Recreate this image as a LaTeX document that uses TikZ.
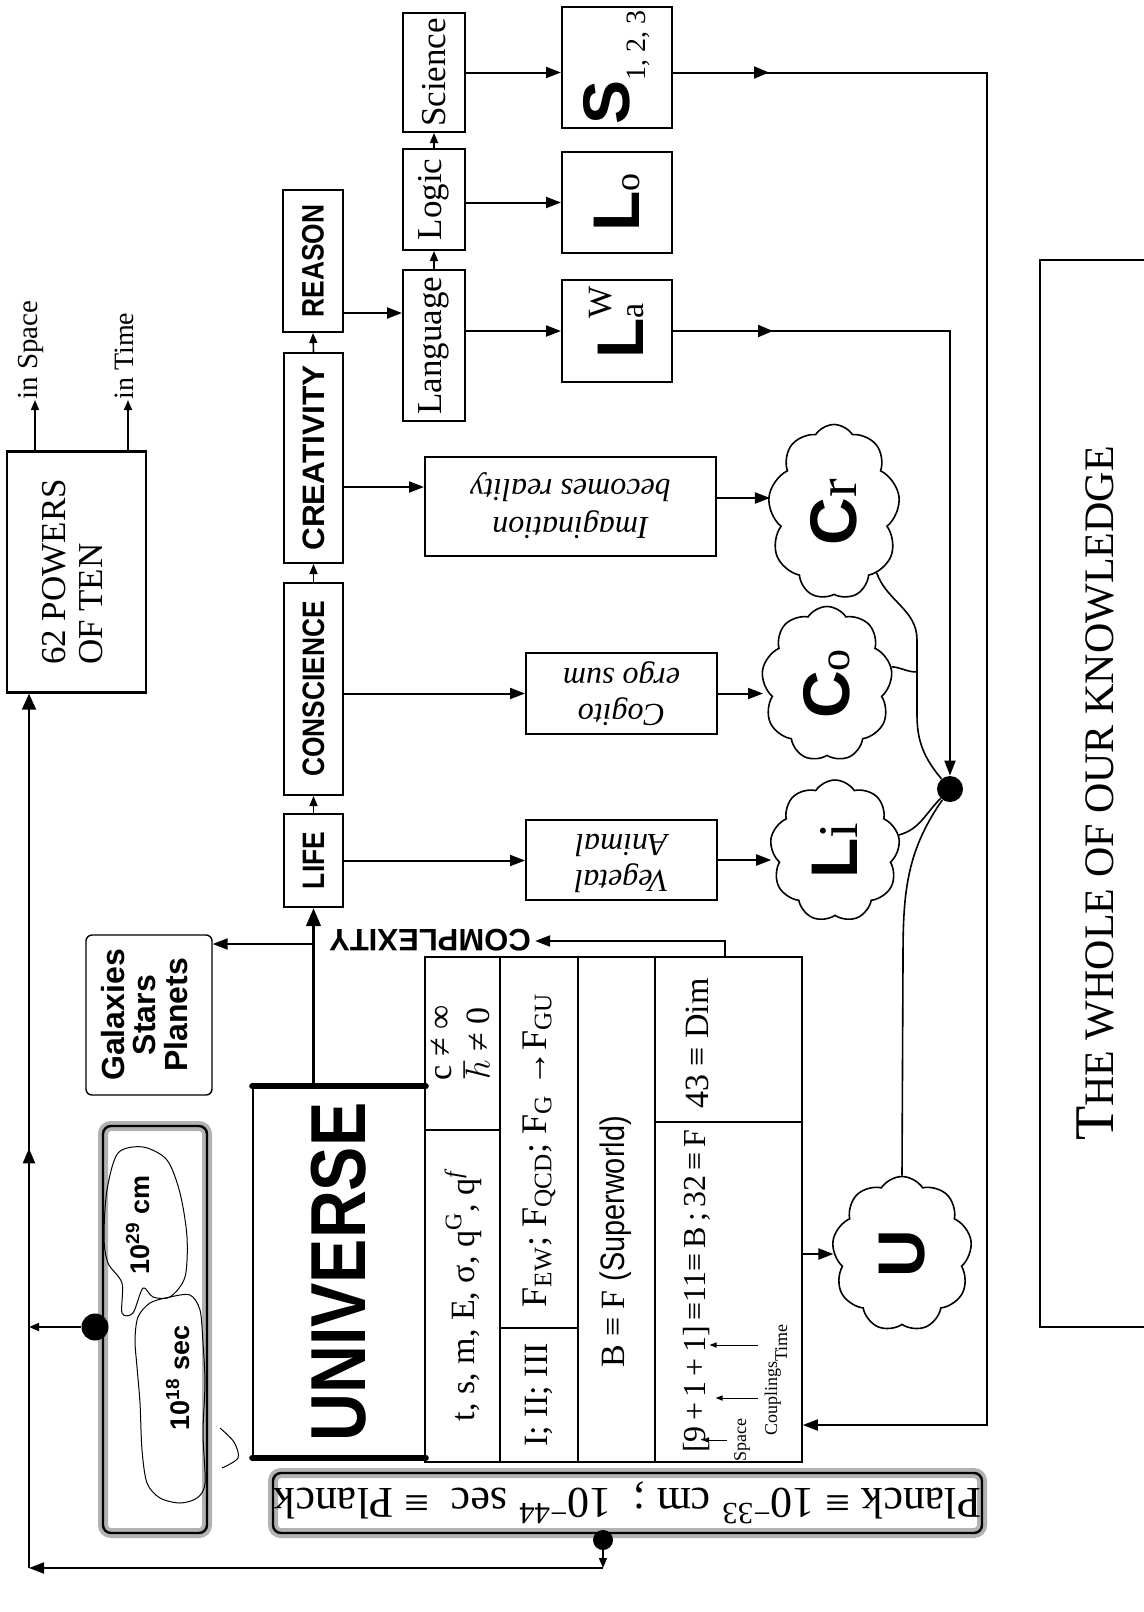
\documentclass[tikz,border=0pt]{standalone}
\usepackage{fontspec}
\usepackage{graphicx}
\setmainfont{Liberation Serif}
\setsansfont{Liberation Sans}
\newfontfamily\narrowsans[FakeStretch=0.85]{Liberation Sans}
\usetikzlibrary{arrows.meta}
\usetikzlibrary{shapes.symbols}
\usetikzlibrary{decorations.markings}
\newcommand\vtext[1]{\rotatebox{90}{#1}}
\newcommand\flipped[1]{\rotatebox{180}{#1}}
\newcommand\fs[2]{\fontsize{#1}{#2}\selectfont}
\newcommand\rowfont{\fs{15.5}{16}\narrowsans\bfseries}
\newcommand\bigsans{\fs{33}{33}\sffamily\bfseries}
\newcommand\tabfont{\fs{17}{19}}
\tikzset{
 box/.style={draw, line width=1pt, inner sep=0pt},
 sz/.style 2 args={minimum width=#1*.5pt, minimum height=#2*.5pt},
 arr/.style={line width=1pt, -{Triangle[length=7.5pt,width=5.5pt]}},
 sarr/.style={line width=.8pt, -{Triangle[length=5pt,width=4pt]}},
 tarr/.style={line width=.5pt, -{Triangle[length=3.5pt,width=2.6pt]}},
 midarrow/.style={postaction={decorate}, decoration={markings,
   mark=at position #1 with {\arrow{Triangle[length=7.5pt,width=6pt]}}}},
 blob/.style={draw, cloud, cloud puffs=9, cloud puff arc=115, cloud ignores aspect,
   inner sep=0pt, line width=.8pt},
 bigdot/.style={circle, fill, inner sep=0pt, minimum size=#1*.5pt},
 shadowbox/.style={draw, line width=1.2pt, rounded corners=4pt, inner sep=0pt,
   preaction={draw=black!30, line width=5pt}},
}
\begin{document}
\begin{tikzpicture}[x=.5pt, y=-.5pt]
\useasboundingbox (0,0) rectangle (1144,1612);

% far left: powers of ten and the return line
\node[box, line width=1.2pt, sz={139}{241}] (powers) at (76.5,572)
  {\vtext{\fs{17.5}{18.5}\begin{tabular}{@{}l@{}}62 POWERS\\OF TEN\end{tabular}}};
\coordinate (sp) at (35,400);
\coordinate (tm) at (128,400);
\draw[sarr] (sp |- powers.north) -- (sp);
\draw[sarr] (tm |- powers.north) -- (tm);
\node[anchor=south, inner sep=0pt] (inspace) at ([xshift=-2pt]sp) {\vtext{\fs{14.5}{16}in Space}};
\node[anchor=south, inner sep=0pt] (intime) at ([xshift=-2pt]tm) {\vtext{\fs{14}{16}in Time}};

\coordinate (bl) at (29,1568);
\coordinate (pl) at (603,1568);

% span of the universe
\node[shadowbox, sz={104}{407}] (span) at (155,1329.5) {};
\draw[line width=.5pt] plot[smooth cycle] coordinates {(118,1153) (143,1147) (167,1160)
  (180,1193) (187,1237) (185,1277) (170,1297) (153,1297) (143,1288) (133,1313) (122,1313)
  (122,1283) (108,1263) (104,1237) (107,1190)};
\draw[line width=.5pt] plot[smooth cycle] coordinates {(138,1317) (150,1303) (170,1297)
  (190,1295) (200,1310) (203,1343) (205,1383) (203,1433) (205,1483) (197,1498) (180,1503)
  (160,1498) (147,1483) (142,1450) (140,1403) (137,1367) (135,1340)};
\draw[line width=.5pt] plot[smooth] coordinates {(220,1428) (234,1442) (238,1458) (222,1468)};
\node (cm) at (138,1225) {\vtext{\fs{13.5}{14}\sffamily\bfseries 10\textsuperscript{29} cm}};
\node (sec) at (178,1378) {\vtext{\fs{13.5}{14}\sffamily\bfseries 10\textsuperscript{18} sec}};
\node[bigdot=27] (sdot) at (95,1327) {};
\draw[sarr] (sdot) -- (sdot -| bl);

\node[draw, line width=.7pt, rounded corners=3pt, inner sep=0pt, sz={126}{160}] (gal) at (149,1015)
  {\vtext{\fs{16}{15}\sffamily\bfseries\begin{tabular}{@{}c@{}}Galaxies\\Stars\\Planets\end{tabular}}};

% universe and its table
\node[draw, line width=.8pt, inner sep=0pt, sz={172}{370}] (uni) at (339,1272)
  {\vtext{\fs{39}{39}\narrowsans\bfseries UNIVERSE}};
\draw[line width=3pt, line cap=round] (uni.north west) -- (uni.north east);
\draw[line width=3pt, line cap=round] (uni.south west) -- (uni.south east);

\node[draw, line width=.8pt, inner sep=0pt, sz={377}{505}] (tab) at (613.5,1209.5) {};
\foreach \cx in {500,578,655}
  \draw[line width=.8pt] (\cx,957) -- (\cx,1462);
\draw[line width=.8pt] (425,1130) -- (500,1130);
\draw[line width=.8pt] (500,1328) -- (578,1328);
\draw[line width=.8pt] (655,1122) -- (802,1122);
\node (consts) at (463,1043) {\vtext{\tabfont\begin{tabular}{@{}c@{}}c ≠ ∞\\$\hbar$ ≠ 0\end{tabular}}};
\node (quant) at (463,1296) {\vtext{\tabfont t, s, m, E, σ, q\textsuperscript{G}, q\textsuperscript{\itshape f}}};
\node (forces) at (539,1150) {\vtext{\fs{18}{19}F\textsubscript{EW}; F\textsubscript{QCD}; F\textsubscript{G} →F\textsubscript{GU}}};
\node (fam) at (539,1395) {\vtext{\tabfont I; II; III}};
\node (superw) at (616,1242) {\vtext{\tabfont B ≡ F {\narrowsans(Superworld)}}};
\node[anchor=south] (dims) at (697,1460) {\vtext{\fs{16}{18}[9\,+\,1\,+\,1]\,≡11≡\,B\,;\,32\,≡\,F}};
\node[anchor=south] (dim) at (697,1116) {\vtext{\tabfont 43 ≡ Dim}};
\node (space) at (742,1440) {\vtext{\fs{9}{9}Space}};
\node (coupl) at (776,1380) {\vtext{\fs{9}{9}Couplings\raisebox{-5pt}{Time}}};
\draw[tarr] (space.west) -- ++(-25,0);
\draw[tarr] (coupl.west |- 0,1398) -- ++(-42,0);
\draw[tarr] (coupl.west |- 0,1345) -- ++(-48,0);

% planck scale
\node[shadowbox, sz={709}{60}] (planck) at (627.5,1503)
  {\flipped{\fs{22}{22}Planck ≡ 10\textsuperscript{−33} cm ;\enspace 10\textsuperscript{−44} sec\enspace ≡ Planck}};
\node[bigdot=20] (pdot) at (603,1540) {};
\draw[sarr] (pdot) -- (pl);
\draw[arr] (pl) -- (bl);
\draw[line width=1.2pt, midarrow=0.48, -{Triangle[length=8pt,width=7pt]}] (bl) -- (bl |- powers.south);

% the chain of complexity
\node[box, sz={59}{93}] (life) at (313.5,860.5) {\vtext{\rowfont LIFE}};
\node[box, sz={59}{212}] (consc) at (313.5,689) {\vtext{\rowfont CONSCIENCE}};
\node[box, sz={59}{210}] (creat) at (313.5,458) {\vtext{\rowfont\scalebox{1.2}[1]{CREATIVITY}}};
\node[box, sz={60}{142}] (reason) at (313,261) {\vtext{\rowfont REASON}};
\draw[sarr] (life.north) -- (consc.south);
\draw[sarr] (consc.north) -- (creat.south);
\draw[sarr] (creat.north) -- (reason.south);
\draw[line width=1.8pt, -{Triangle[length=9pt,width=7pt]}] (uni.north -| life) -- (life.south);
\coordinate (gb) at (313,944);
\draw[arr] (gb) -- (gb -| gal.east);
\node[inner sep=2pt] (cplx) at (430,940) {\flipped{\fs{15.5}{16}\sffamily\bfseries COMPLEXITY}};
\coordinate (cx) at (725,941);
\draw[arr] (cx |- tab.north) -- (cx) -- (cx -| cplx.east);

% reason branch
\node[box, sz={62}{151}] (lang) at (434,345.5) {\vtext{\fs{17.5}{18}Language}};
\node[box, sz={62}{101}] (logic) at (434,199.5) {\vtext{\fs{17.5}{18}Logic}};
\node[box, sz={62}{119}] (sci) at (434,72.5) {\vtext{\fs{17.5}{18}Science}};
\draw[sarr] (lang.north) -- (logic.south);
\draw[sarr] (logic.north) -- (sci.south);
\draw[arr] (reason.east |- 0,313) -- (lang.west |- 0,313);
\node[box, sz={110}{102}] (law) at (617,331)
  {\vtext{{\bigsans L}\rlap{\raisebox{16pt}{\fs{17}{17}W}}{\fs{17}{17}a}}};
\node[box, sz={110}{101}] (lo) at (617,202.5) {\vtext{{\bigsans L}{\fs{18}{18}o}}};
\node[box, sz={110}{121}] (sbox) at (617,67.5)
  {\vtext{{\bigsans S}\raisebox{-8pt}{\fs{14}{14}1, 2, 3}}};
\draw[arr] (law.west -| lang.east) -- (law.west);
\draw[arr] (lo.west -| logic.east) -- (lo.west);
\draw[arr] (sci.east) -- (sci.east -| sbox.west);

% what each step leaves
\node[box, sz={191}{80}] (veg) at (621.5,860)
  {\flipped{\fs{16}{18}\itshape\begin{tabular}{@{}c@{}}Vegetal\\Animal\end{tabular}}};
\node[box, sz={191}{81}] (cogito) at (621.5,693.5)
  {\flipped{\fs{16}{18}\itshape\begin{tabular}{@{}c@{}}Cogito\\ergo sum\end{tabular}}};
\node[box, sz={291}{99}] (imag) at (570.5,506.5)
  {\flipped{\fs{16}{19}\itshape\begin{tabular}{@{}c@{}}Imagination\\becomes reality\end{tabular}}};
\draw[arr] (life.east) -- (life.east -| veg.west);
\draw[arr] (cogito.west -| consc.east) -- (cogito.west);
\draw[arr] (creat.east |- 0,487) -- (imag.west |- 0,487);

\node[blob, sz={132}{175}] (cr) at (834,512) {\vtext{{\bigsans C}\fs{28}{28}r}};
\node[blob, sz={131}{155}] (co) at (827,684) {\vtext{{\bigsans C}\fs{22}{22}o}};
\node[blob, sz={130}{142}] (li) at (835,851) {\vtext{{\bigsans L}\fs{28}{28}i}};
\node[blob, sz={140}{155}] (uc) at (902,1254) {\vtext{\bigsans U}};
\draw[arr] (imag.east |- 0,498) -- (cr.west |- 0,498);
\draw[arr] (cogito.east) -- (cogito.east -| co.west);
\draw[arr] (veg.east) -- (veg.east -| li.west);
\draw[arr] (tab.east |- uc.west) -- (uc.west);

% everything meets
\node[bigdot=26] (kdot) at (950,789) {};
\draw[line width=.8pt] (uc.north) -- (903,960) to[out=90,in=235] (kdot);
\draw[line width=.8pt] ([yshift=8pt]li.east) to[out=15,in=225] (kdot);
\draw[line width=.8pt] (cr.-55) to[out=-70,in=90] (917,640) -- (917,715) to[out=-90,in=130] (kdot);
\draw[line width=.8pt] (co.15) to[out=-5,in=180] (917,672);
\draw[line width=1pt, midarrow=50pt, arr] (law.east) -- (law.east -| kdot) -- (kdot.north);
\coordinate (rc) at (987,0);
\draw[line width=1pt, midarrow=48pt, arr] (sci.east -| sbox.east) -- (sci.east -| rc)
  -- (rc |- 0,1425) -- (tab.east |- 0,1425);

\node[draw, line width=.8pt, sz={110}{1067}] (whole) at (1095,793.5)
  {\vtext{\fs{28}{28}T\fs{21}{21}HE WHOLE OF OUR KNOWLEDGE}};
\end{tikzpicture}
\end{document}
